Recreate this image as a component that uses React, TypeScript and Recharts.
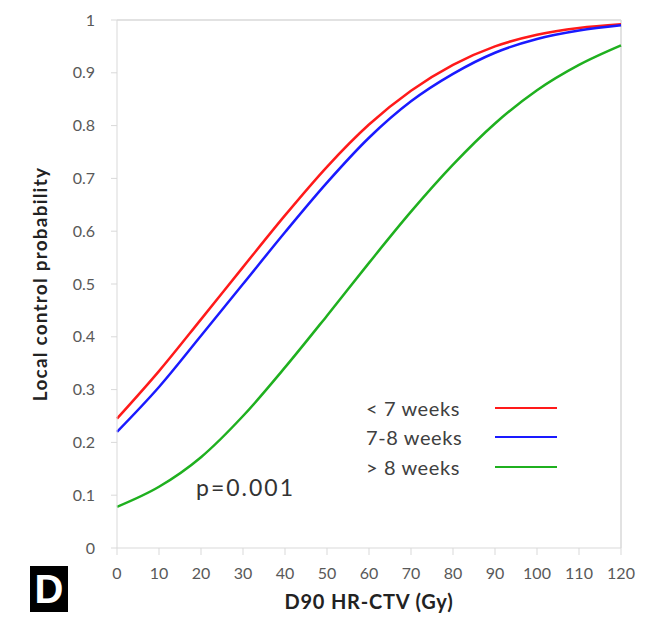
import {
    LineChart,
    Line,
    XAxis,
    YAxis,
    Label,
    ReferenceLine
} from 'recharts'

// dose (Gy) on the x axis
const doses = [0, 10, 20, 30, 40, 50, 60, 70, 80, 90, 100, 110, 120]

// local control probability
const under7 = [0.245, 0.335, 0.433, 0.532, 0.63, 0.722, 0.802, 0.866, 0.915, 0.95, 0.972, 0.985, 0.992]
const weeks7to8 = [0.22, 0.305, 0.402, 0.5, 0.598, 0.692, 0.777, 0.846, 0.898, 0.938, 0.964, 0.98, 0.99]
const over8 = [0.078, 0.116, 0.172, 0.25, 0.342, 0.44, 0.54, 0.637, 0.726, 0.804, 0.867, 0.915, 0.952]

const xTicks = [0, 10, 20, 30, 40, 50, 60, 70, 80, 90, 100, 110, 120]
const yTicks = [0, 0.1, 0.2, 0.3, 0.4, 0.5, 0.6, 0.7, 0.8, 0.9, 1]

const series = [
    { key: 'under7', name: '< 7 weeks', color: '#ff1a1a' },
    { key: 'weeks7to8', name: '7-8 weeks', color: '#1a1aff' },
    { key: 'over8', name: '> 8 weeks', color: '#1fb01f' }
]

const data = doses.map((d, i) => ({
    dose: d,
    under7: under7[i],
    weeks7to8: weeks7to8[i],
    over8: over8[i]
}))

const FONT = 'Lato, "Open Sans", sans-serif'
const AXIS_GRAY = '#d9d9d9'
const TEXT_GRAY = '#595959'

function LegendBox() {
    return (
        <div
            style={{
                position: 'absolute',
                left: 366,
                top: 393,
                fontFamily: FONT,
                fontSize: 20,
                letterSpacing: 0.6,
                color: '#404040'
            }}
        >
            {series.map((s) => (
                <div key={s.key} style={{ display: 'flex', alignItems: 'center', height: 29.5 }}>
                    <span style={{ width: 129 }}>{s.name}</span>
                    <span style={{ display: 'inline-block', width: 62, height: 2, background: s.color }} />
                </div>
            ))}
        </div>
    )
}

export default function App() {
    return (
        <div style={{ position: 'absolute', left: 0, top: 0, width: 652, height: 621, background: '#fff' }}>
            <LineChart
                width={652}
                height={621}
                data={data}
                margin={{ top: 20, right: 31, bottom: 6, left: 25 }}
            >
                <XAxis
                    dataKey="dose"
                    type="number"
                    domain={[0, 120]}
                    ticks={xTicks}
                    stroke={AXIS_GRAY}
                    tick={{ fill: TEXT_GRAY, fontSize: 16, fontFamily: FONT }}
                    tickSize={7}
                    tickMargin={13}
                    height={67}
                >
                    <Label
                        value="D90 HR-CTV (Gy)"
                        position="insideBottom"
                        offset={6}
                        style={{ fontFamily: FONT, fontSize: 20, fontWeight: 700, letterSpacing: 0.8, fill: '#222' }}
                    />
                </XAxis>
                <YAxis
                    type="number"
                    domain={[0, 1]}
                    ticks={yTicks}
                    stroke={AXIS_GRAY}
                    tick={{ fill: TEXT_GRAY, fontSize: 16, fontFamily: FONT }}
                    tickSize={6}
                    tickMargin={16}
                    width={92}
                    tickFormatter={(v: number) => (v === 0 || v === 1 ? String(v) : v.toFixed(1))}
                >
                    <Label
                        value="Local control probability"
                        angle={-90}
                        position="insideLeft"
                        offset={15}
                        style={{
                            textAnchor: 'middle',
                            fontFamily: FONT,
                            fontSize: 19,
                            fontWeight: 700,
                            letterSpacing: 1.2,
                            fill: '#222'
                        }}
                    />
                </YAxis>
                <ReferenceLine y={1} stroke={AXIS_GRAY} strokeWidth={1.5} />
                <ReferenceLine x={120} stroke={AXIS_GRAY} strokeWidth={1.5} />
                {series.map((s) => (
                    <Line
                        key={s.key}
                        type="monotone"
                        dataKey={s.key}
                        name={s.name}
                        stroke={s.color}
                        strokeWidth={2.5}
                        dot={false}
                        isAnimationActive={false}
                    />
                ))}
            </LineChart>
            <LegendBox />
            <div
                style={{
                    position: 'absolute',
                    left: 196,
                    top: 473,
                    fontFamily: FONT,
                    fontSize: 23,
                    letterSpacing: 2,
                    color: '#333'
                }}
            >
                p=0.001
            </div>
            <div
                style={{
                    position: 'absolute',
                    left: 30,
                    top: 566,
                    width: 38,
                    height: 46,
                    background: '#000',
                    color: '#fff',
                    fontFamily: 'Arial, "Liberation Sans", sans-serif',
                    fontWeight: 700,
                    fontSize: 40,
                    lineHeight: '46px',
                    textAlign: 'center'
                }}
            >
                D
            </div>
        </div>
    )
}
